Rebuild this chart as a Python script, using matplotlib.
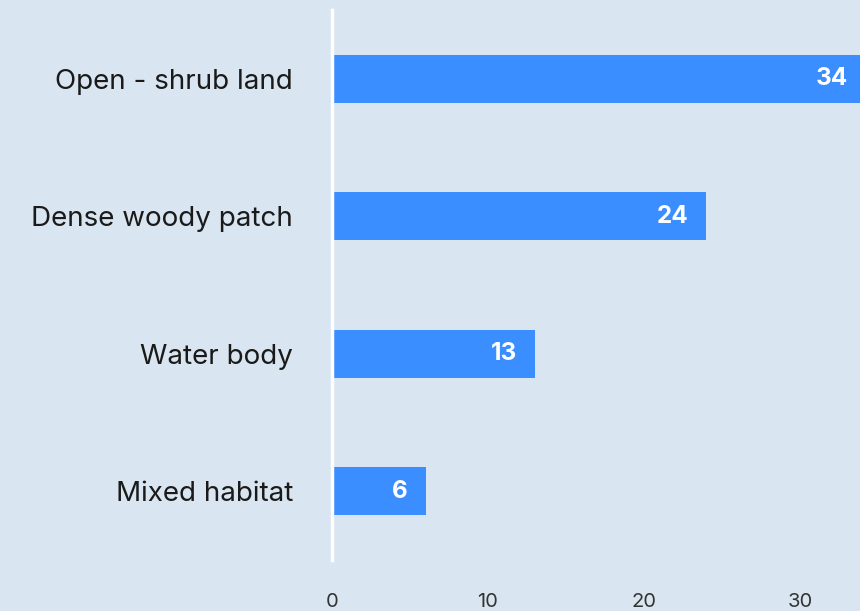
import matplotlib
matplotlib.use("Agg")
import matplotlib.pyplot as plt

categories = ["Open - shrub land", "Dense woody patch", "Water body", "Mixed habitat"]
values = [34, 24, 13, 6]
xticks = [0, 10, 20, 30]

BG = "#d9e6f1"
BAR = "#3a8eff"

plt.rcParams["font.family"] = ["Inter", "DejaVu Sans"]

fig = plt.figure(figsize=(8.6, 6.11), dpi=100, facecolor=BG)
ax = fig.add_axes([332/860, 1 - 560/611, 1 - 332/860, 550/611])
ax.set_facecolor(BG)

ypos = list(range(len(categories)))
ax.barh(ypos, values, height=0.35, color=BAR, zorder=2)
ax.set_ylim(len(categories) - 0.5, -0.5)
ax.set_xlim(0, 33.85)

ax.set_yticks(ypos)
ax.set_yticklabels(categories, fontsize=20, color="#1a1a1a")
ax.set_xticks(xticks)
ax.set_xticklabels([str(t) for t in xticks], fontsize=14.5, color="#333333")
ax.tick_params(axis="y", length=0, pad=28)
ax.tick_params(axis="x", length=0, pad=24)

for s in ["top", "right", "bottom"]:
    ax.spines[s].set_visible(False)
ax.spines["left"].set_color("white")
ax.spines["left"].set_linewidth(2.5)
ax.spines["left"].set_zorder(3)

for y, v in zip(ypos, values):
    off = -18 if v < 33.85 else -12
    ax.annotate(str(v), xy=(min(v, 33.85), y), xytext=(off, 0),
                textcoords="offset pixels", ha="right", va="center",
                fontsize=17.5, fontweight="bold", color="white", zorder=4,
                annotation_clip=False)

fig.savefig("out.png", dpi=100, facecolor=BG)
